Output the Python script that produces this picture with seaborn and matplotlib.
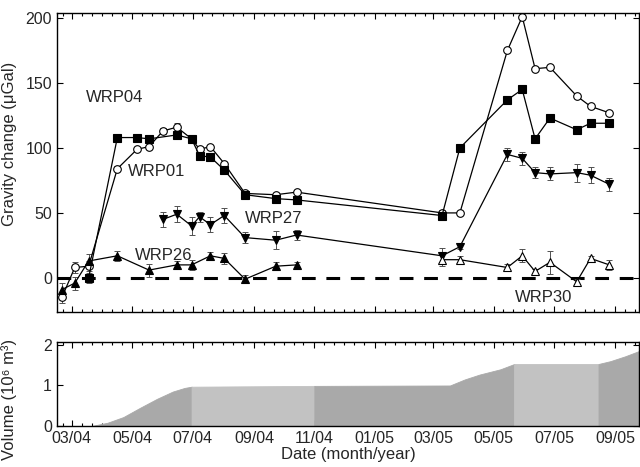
import numpy as np
import pandas as pd
import matplotlib
matplotlib.use('Agg')
import matplotlib.pyplot as plt
import matplotlib.dates as mdates
import seaborn as sns

# survey dates
dates_early = ['2004-02-20', '2004-03-04', '2004-03-18', '2004-04-16', '2004-05-06',
               '2004-05-18', '2004-06-01', '2004-06-15', '2004-06-30', '2004-07-08',
               '2004-07-19', '2004-08-02', '2004-08-23', '2004-09-23', '2004-10-14']
dates_late = ['2005-03-10', '2005-03-28', '2005-05-15', '2005-05-30', '2005-06-12',
              '2005-06-27', '2005-07-24', '2005-08-07', '2005-08-26']

# WRP01 (open circles)
wrp01_dates = dates_early + dates_late
wrp01_vals = [-15, 8, 9, 84, 99, 101, 113, 116, 107, 99, 101, 88, 65, 64, 66,
              50, 50, 175, 201, 161, 162, 140, 132, 127]
wrp01_err = [4, 4, 4, 2, 1, 1, 2, 3, 1, 1, 1, 1, 1, 1, 1,
             2, 1, 1, 1, 1, 1, 1, 1, 1]

# WRP04 (filled squares)
wrp04_dates = ['2004-03-18', '2004-04-16', '2004-05-06', '2004-05-18', '2004-06-15',
               '2004-06-30', '2004-07-08', '2004-07-19', '2004-08-02', '2004-08-23',
               '2004-09-23', '2004-10-14'] + dates_late
wrp04_vals = [0, 108, 108, 107, 110, 107, 94, 93, 83, 64, 61, 60,
              48, 100, 137, 145, 107, 123, 114, 119, 119]
wrp04_err = [4, 1, 1, 1, 3, 1, 1, 1, 1, 1, 1, 1,
             2, 1, 1, 1, 1, 1, 1, 1, 1]

# WRP27 (filled down triangles)
wrp27_dates = ['2004-06-01', '2004-06-15', '2004-06-30', '2004-07-08', '2004-07-19',
               '2004-08-02', '2004-08-23', '2004-09-23', '2004-10-14'] + dates_late
wrp27_vals = [45, 49, 40, 47, 41, 48, 31, 29, 33,
              17, 24, 95, 92, 81, 80, 81, 79, 72]
wrp27_err = [6, 6, 7, 4, 6, 6, 4, 7, 4,
             6, 2, 5, 5, 4, 5, 7, 6, 5]

# WRP26 (filled up triangles)
wrp26_dates = ['2004-02-20', '2004-03-04', '2004-03-18', '2004-04-16', '2004-05-18',
               '2004-06-15', '2004-06-30', '2004-07-19', '2004-08-02', '2004-08-23',
               '2004-09-23', '2004-10-14']
wrp26_vals = [-9, -4, 13, 17, 6, 10, 10, 17, 15, -1, 9, 10]
wrp26_err = [5, 5, 5, 4, 5, 3, 4, 3, 4, 3, 3, 2]

# WRP30 (open up triangles)
wrp30_dates = dates_late
wrp30_vals = [14, 14, 8, 17, 5, 12, -3, 15, 10]
wrp30_err = [5, 3, 3, 5, 2, 9, 2, 2, 4]

# cumulative erupted volume (10^6 m^3)
vol_dates = ['2004-03-21', '2004-04-06', '2004-04-22', '2004-05-09', '2004-05-26',
             '2004-06-11', '2004-06-23', '2004-06-30', '2004-11-01', '2005-03-18',
             '2005-04-02', '2005-04-17', '2005-05-08', '2005-05-22', '2005-08-15',
             '2005-08-27', '2005-09-11', '2005-09-26']
vol_vals = [0, 0.08, 0.22, 0.45, 0.67, 0.85, 0.94, 0.97, 0.99, 1.0,
            1.15, 1.27, 1.4, 1.53, 1.53, 1.6, 1.72, 1.86]
vol_breaks = ['2004-03-21', '2004-06-30', '2004-11-01', '2005-05-22', '2005-08-15', '2005-09-26']
vol_shades = ['#a9a9a9', '#c2c2c2', '#a9a9a9', '#c2c2c2', '#a9a9a9']

labels = {'WRP04': ('2004-03-15', 139), 'WRP01': ('2004-04-27', 82),
          'WRP27': ('2004-08-23', 46), 'WRP26': ('2004-05-04', 17),
          'WRP30': ('2005-05-23', -15)}

sns.set_theme(style='ticks')
plt.rcParams['font.family'] = ['Liberation Sans', 'DejaVu Sans']
plt.rcParams['xtick.direction'] = 'in'
plt.rcParams['ytick.direction'] = 'in'

fig = plt.figure(figsize=(6.4, 4.67), dpi=100)
ax = fig.add_axes([0.089, 0.3326, 0.9095, 0.640])
axv = fig.add_axes([0.089, 0.0878, 0.9095, 0.1805])

series = [
    (wrp01_dates, wrp01_vals, wrp01_err, 'o', 'white'),
    (wrp04_dates, wrp04_vals, wrp04_err, 's', 'black'),
    (wrp27_dates, wrp27_vals, wrp27_err, 'v', 'black'),
    (wrp26_dates, wrp26_vals, wrp26_err, '^', 'black'),
    (wrp30_dates, wrp30_vals, wrp30_err, '^', 'white'),
]

ax.axhline(0, color='black', lw=2.2, dashes=(4.5, 3.5), zorder=1)
for d, v, e, m, fc in series:
    df = pd.DataFrame({'date': pd.to_datetime(d), 'g': v})
    ax.errorbar(df['date'], df['g'], yerr=e, fmt='none', ecolor='#505050',
                elinewidth=0.7, capsize=2.5, capthick=0.7, zorder=2)
    sns.lineplot(data=df, x='date', y='g', ax=ax, color='black', lw=0.9,
                 marker=m, markersize=5.5, markerfacecolor=fc,
                 markeredgecolor='black', markeredgewidth=0.8, zorder=3)

for name, (d, y) in labels.items():
    ax.text(pd.Timestamp(d), y, name, fontsize=12, va='center', ha='left')

# volume panel, shaded in alternating bands
vd = pd.to_datetime(vol_dates)
vv = np.array(vol_vals)
edges = pd.to_datetime(vol_breaks)
for i, c in enumerate(vol_shades):
    sel = (vd >= edges[i]) & (vd <= edges[i + 1])
    axv.fill_between(vd[sel], 0, vv[sel], facecolor=c, edgecolor=c, lw=0.6)

xmin, xmax = pd.Timestamp('2004-02-15'), pd.Timestamp('2005-09-25')
for a in (ax, axv):
    a.set_xlim(xmin, xmax)
    a.xaxis.set_major_locator(mdates.MonthLocator(bymonth=[1, 3, 5, 7, 9, 11]))
    a.xaxis.set_minor_locator(mdates.DayLocator(bymonthday=[1, 11, 21]))
    a.xaxis.set_major_formatter(mdates.DateFormatter('%m/%y'))
    a.tick_params(which='both', top=True, right=True, direction='in',
                  color='black', labelsize=11.5)
    a.tick_params(which='major', length=4, width=0.8)
    a.tick_params(which='minor', length=2.2, width=0.8)
    for s in a.spines.values():
        s.set_linewidth(1.0)
        s.set_color('black')
        s.set_zorder(5)

ax.set_ylim(-26, 204)
ax.set_yticks([0, 50, 100, 150, 200])
ax.tick_params(axis='x', labelbottom=False)
ax.set_xlabel('')
ax.set_ylabel('Gravity change (\u03bcGal)', fontsize=12)
ax.yaxis.set_label_coords(-0.068, 0.56)

axv.set_ylim(0, 2.08)
axv.set_yticks([0, 1, 2])
axv.set_xlabel('Date (month/year)', fontsize=12, labelpad=1)
axv.set_ylabel('Volume (10\u2076 m\u00b3)', fontsize=12)
axv.yaxis.set_label_coords(-0.068, 0.31)

fig.savefig('out.png', dpi=100)
